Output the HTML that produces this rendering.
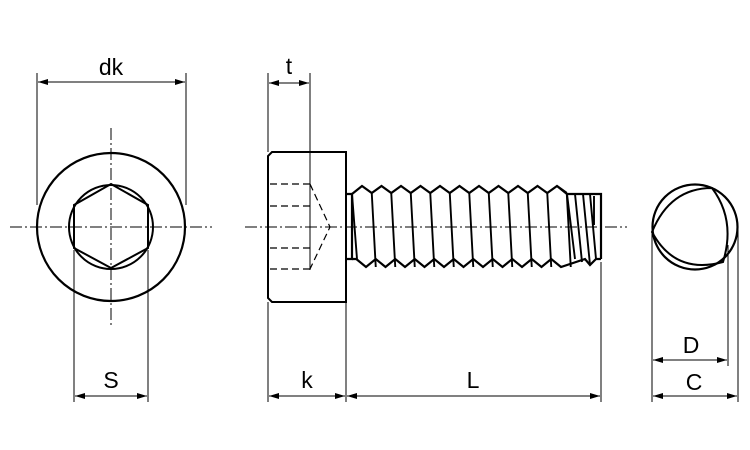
<!DOCTYPE html>
<html><head><meta charset="utf-8"><style>
html,body{margin:0;padding:0;background:#fff;}
svg{display:block;}
text{font-family:"Liberation Sans",sans-serif;font-size:23px;fill:#000;text-anchor:middle;}
</style></head><body>
<svg id="s" width="750" height="450" viewBox="0 0 750 450" xmlns="http://www.w3.org/2000/svg">
<defs>
<marker id="a" viewBox="0 0 10 6" refX="10" refY="3" markerWidth="10" markerHeight="6" orient="auto-start-reverse" markerUnits="userSpaceOnUse"><path d="M0,0 L10,3 L0,6 Z" fill="#000"/></marker>
</defs>
<g fill="none" stroke="#000">
<g stroke-width="1" stroke-dasharray="12,3,2,3">
<line x1="10" y1="227" x2="212" y2="227"/>
<line x1="111" y1="128" x2="111" y2="328"/>
<line x1="245" y1="227" x2="627" y2="227"/>
</g>
<circle cx="111" cy="227" r="74" stroke-width="2.2"/>
<circle cx="111" cy="227" r="42" stroke-width="2"/>
<polygon points="111,184 148,205 148,248 111,268 74,248 74,205" stroke-width="2"/>
<g stroke-width="1">
<line x1="37" y1="73" x2="37" y2="205"/>
<line x1="186" y1="73" x2="186" y2="205"/>
<line x1="38" y1="82" x2="185" y2="82" marker-start="url(#a)" marker-end="url(#a)"/>
<line x1="74" y1="250" x2="74" y2="402"/>
<line x1="148" y1="250" x2="148" y2="402"/>
<line x1="75" y1="396" x2="147" y2="396" marker-start="url(#a)" marker-end="url(#a)"/>
</g>
<path d="M272,152 L346,152 L346,302 L272,302 L268,298 L268,156 Z" stroke-width="2"/>
<g stroke-width="1.2" stroke-dasharray="7,4">
<line x1="270" y1="184" x2="310" y2="184"/>
<line x1="270" y1="206" x2="310" y2="206"/>
<line x1="270" y1="248" x2="310" y2="248"/>
<line x1="270" y1="269" x2="310" y2="269"/>
<polyline points="310,184 330,227 310,269"/>
</g>
<g stroke-width="1">
<line x1="268" y1="73" x2="268" y2="152"/>
<line x1="310" y1="73" x2="310" y2="270"/>
<line x1="269" y1="83" x2="309" y2="83" marker-start="url(#a)" marker-end="url(#a)"/>
<line x1="268" y1="302" x2="268" y2="402"/>
<line x1="346" y1="302" x2="346" y2="402"/>
<line x1="601" y1="262" x2="601" y2="402"/>
<line x1="269" y1="396" x2="345" y2="396" marker-start="url(#a)" marker-end="url(#a)"/>
<line x1="347" y1="396" x2="600" y2="396" marker-start="url(#a)" marker-end="url(#a)"/>
</g>
<g id="thr" stroke-width="2.2"></g>
<circle cx="695" cy="227" r="42.5" stroke-width="2.2"/>
<path d="M652,232 Q670,188 712,188 Q736,220 723,262 Q675,275 652,232 Z" stroke-width="2"/>
<g stroke-width="1">
<line x1="652" y1="232" x2="652" y2="402"/>
<line x1="728" y1="245" x2="728" y2="366"/>
<line x1="738" y1="227" x2="738" y2="402"/>
<line x1="653" y1="360" x2="727" y2="360" marker-start="url(#a)" marker-end="url(#a)"/>
<line x1="653" y1="396" x2="737" y2="396" marker-start="url(#a)" marker-end="url(#a)"/>
</g>
</g>
<text x="111" y="75">dk</text>
<text x="111" y="388">S</text>
<text x="289" y="74">t</text>
<text x="307" y="388">k</text>
<text x="473" y="388">L</text>
<text x="691" y="353">D</text>
<text x="694" y="390">C</text>
</svg>
<script>
(function(){
var g=document.getElementById('thr'),p=19.5,d='M346,194 L352,194 L352,259 L346,259';
var tp='M352,194',bt='M352,259',ln='';
for(var i=0;i<11;i++){var x=362+p*i;tp+=' L'+x+',186 L'+(x+9.75)+',193';}
tp+=' L557,186 L567,194 L601,194 L601,259';
for(var i=0;i<11;i++){var x=366+p*i;bt+=' L'+(x-9.75)+',259 L'+x+',267';}
bt+=' L585,259 L590,265 L596,259 L601,259';
ln+='M352,194 L357,259 ';
for(var i=0;i<11;i++){var x=371.75+p*i;ln+='M'+x+',193 L'+(x+4)+',267 ';}
ln+='M567,194 L575,259 M575,194 L582,262 M583,194 L590,265 M590,194 L596,259 M594,196 L594,225';
g.innerHTML='<path d="'+d+'"/><path d="'+tp+'"/><path d="'+bt+'"/><path stroke-width="1.9" d="'+ln+'"/>';
})();
</script>
</body></html>
